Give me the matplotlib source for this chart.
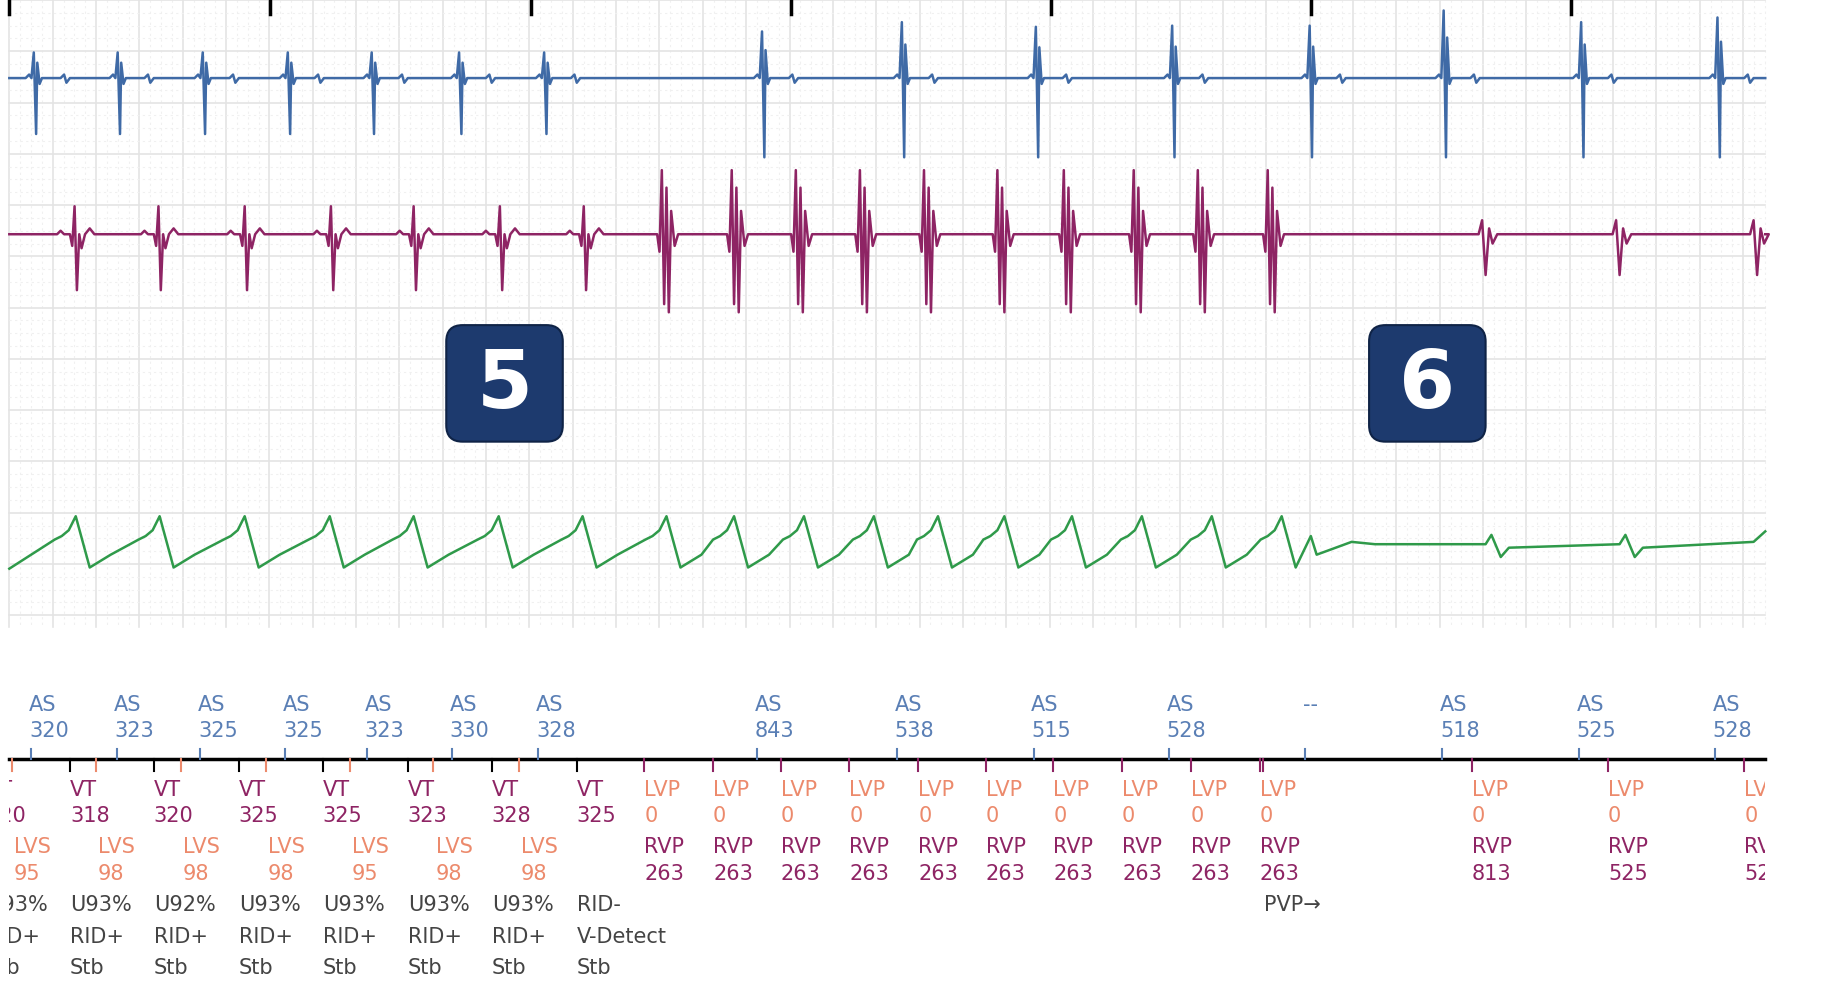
import numpy as np
import matplotlib
matplotlib.use("Agg")
import matplotlib.pyplot as plt
from matplotlib.patches import FancyBboxPatch, Rectangle

# ---- data (positions in chart units) ----
blue_beats = [30, 102, 175, 248, 320, 395, 468, 655, 775, 890, 1007, 1125, 1240, 1358, 1475]
blue_up = [22, 22, 22, 22, 22, 22, 22, 40, 48, 44, 45, 45, 58, 48, 52]
blue_down = [48, 48, 48, 48, 48, 48, 48, 68, 68, 68, 68, 68, 68, 68, 68]

mag_sinus = [63, 135, 209, 283, 354, 428, 500]
mag_tachy = [570, 630, 685, 740, 795, 858, 915, 975, 1030, 1090]
mag_small = [1275, 1390, 1508]

green_beats = [65, 137, 210, 283, 355, 428, 500, 572, 630, 690, 750, 805, 862, 920, 980, 1040, 1100]
green_small = [1283, 1398]

as_x = [27, 100, 172, 245, 315, 388, 462, 650, 770, 887, 1003, 1120, 1238, 1355, 1472]
as_val = ["320", "323", "325", "325", "323", "330", "328", "843", "538", "515", "528", "--", "518", "525", "528"]

vt_x = [-12, 60, 132, 205, 277, 350, 422, 495]
vt_val = ["320", "318", "320", "325", "325", "323", "328", "325"]
lvs_x = [10, 82, 155, 228, 300, 372, 445]
lvs_val = ["95", "98", "98", "98", "95", "98", "98"]
stat_l1 = ["U93%", "U93%", "U92%", "U93%", "U93%", "U93%", "U93%", "RID-"]
stat_l2 = ["RID+", "RID+", "RID+", "RID+", "RID+", "RID+", "RID+", "V-Detect"]
stat_l3 = ["Stb"] * 8

lvp_x = [553, 612, 670, 729, 788, 846, 904, 963, 1022, 1081, 1263, 1380, 1497]
lvp_val = ["0"] * 13
rvp_val = ["263"] * 10 + ["813", "525", "525"]

BLUE = "#3f6aa6"; MAG = "#8e2464"; GREEN = "#2f9a4a"; ORANGE = "#ec8a6c"; TXTG = "#444444"
ASC = "#5a7fb5"

fig = plt.figure(figsize=(18.27, 10.08), dpi=100)
ax = fig.add_axes([0, 0, 1, 1])
ax.set_xlim(0, 1568); ax.set_ylim(865, 0); ax.axis("off")
X0, X1 = 8, 1515

# grid
for x in np.arange(X0, X1, 37.2):
    ax.plot([x, x], [0, 538], color="#e4e4e4", lw=1.2, zorder=0)
    for k in range(1, 4):
        xx = x + k * 9.3
        if xx < X1:
            ax.plot([xx, xx], [0, 538], color="#f0f0f0", lw=0.8, ls=(0, (2, 3)), zorder=0)
for y in np.arange(0, 540, 44):
    ax.plot([X0, X1], [y, y], color="#e4e4e4", lw=1.2, zorder=0)
    for k in range(1, 4):
        yy = y + k * 11
        if yy < 538:
            ax.plot([X0, X1], [yy, yy], color="#f0f0f0", lw=0.8, ls=(0, (2, 3)), zorder=0)
for x in [8, 232, 456, 679, 902, 1125, 1348]:
    ax.plot([x, x], [0, 12], color="black", lw=2.5)

def build(points, base, x0=X0, x1=X1):
    pts = sorted(points)
    xs = [x0] + [p[0] for p in pts] + [x1]
    ys = [base] + [p[1] for p in pts] + [base]
    return np.array(xs), np.array(ys)

# blue
pts = []
for b, u, d in zip(blue_beats, blue_up, blue_down):
    for dx, dy in [(-8, 0), (-5, -3), (-3, 0), (-1, -u), (1, d), (2, -u * 0.6), (4, 5), (6, 0), (22, 0), (25, -3), (27, 4), (30, 0)]:
        pts.append((b + dx, 67 + dy))
xs, ys = build(pts, 67)
ax.plot(xs, ys, color=BLUE, lw=1.8)

# magenta
pts = []
for b in mag_sinus:
    for dx, dy in [(-14, 0), (-11, -3), (-8, 0), (-3, 0), (-1, 10), (1, -24), (3, 48), (5, 0), (7, 12), (10, 0), (14, -5), (18, 0)]:
        pts.append((b + dx, 201 + dy))
for b in mag_tachy:
    for dx, dy in [(-6, 0), (-4, 15), (-2, -55), (0, 60), (2, -40), (4, 67), (6, -20), (9, 10), (12, 0)]:
        pts.append((b + dx, 201 + dy))
for b in mag_small:
    for dx, dy in [(-6, 0), (-3, -12), (0, 35), (3, -5), (6, 8), (10, 0)]:
        pts.append((b + dx, 201 + dy))
xs, ys = build(pts, 201)
ax.plot(xs, ys, color=MAG, lw=1.8)

# green
pts = [(X0, 488)]
for b in green_beats:
    for dx, dy in [(-18, 463), (-12, 460), (-6, 455), (0, 443), (12, 487), (30, 476)]:
        pts.append((b + dx, dy))
pts += [(1125, 460), (1160, 465), (1180, 467)]
for b in green_small:
    pts += [(b - 8, 467), (b - 3, 459), (b + 5, 478), (b + 12, 470)]
pts += [(1505, 465), (1515, 456)]
pts = sorted(pts)
ax.plot([p[0] for p in pts], [p[1] for p in pts], color=GREEN, lw=1.8)

# badges
for cx, t in [(433, "5"), (1225, "6")]:
    ax.add_patch(FancyBboxPatch((cx - 42, 287), 84, 84, boxstyle="round,pad=8,rounding_size=14",
                                fc="#1d3a6e", ec="#0f2346", lw=1.5, zorder=5))
    ax.text(cx, 331, t, color="white", fontsize=58, fontweight="bold", ha="center", va="center", zorder=6)

# annotation line
ax.plot([X0, X1], [651, 651], color="black", lw=2.5)
clip = Rectangle((X0, 560), X1 - X0, 300, transform=ax.transData, visible=False)
ax.add_patch(clip)
fs = 15
def T(x, y, s, c):
    t = ax.text(x, y, s, color=c, fontsize=fs, ha="left", va="center")
    t.set_clip_on(True)
    t.set_clip_path(clip)

for x, v in zip(as_x, as_val):
    ax.plot([x, x], [643, 651], color=ASC, lw=1.5)
    if v == "--":
        T(x - 2, 605, "--", ASC)
    else:
        T(x - 2, 605, "AS", ASC); T(x - 2, 627, v, ASC)
for x, v, a, b, c in zip(vt_x, vt_val, stat_l1, stat_l2, stat_l3):
    if x > X0:
        ax.plot([x, x], [651, 662], color="black", lw=1.5)
    T(x, 678, "VT", MAG); T(x, 700, v, MAG)
    T(x, 777, a, TXTG); T(x, 804, b, TXTG); T(x, 831, c, TXTG)
for x, v in zip(lvs_x, lvs_val):
    ax.plot([x, x], [651, 662], color=ORANGE, lw=1.5)
    T(x + 2, 727, "LVS", ORANGE); T(x + 2, 750, v, ORANGE)
for x, a, b in zip(lvp_x, lvp_val, rvp_val):
    ax.plot([x, x], [651, 662], color=MAG, lw=1.5)
    T(x, 678, "LVP", ORANGE); T(x, 700, a, ORANGE)
    T(x, 727, "RVP", MAG); T(x, 750, b, MAG)
ax.plot([1084, 1084], [651, 662], color=MAG, lw=1.5)
T(1085, 777, "PVP→", TXTG)

fig.savefig("out.png", dpi=100)
